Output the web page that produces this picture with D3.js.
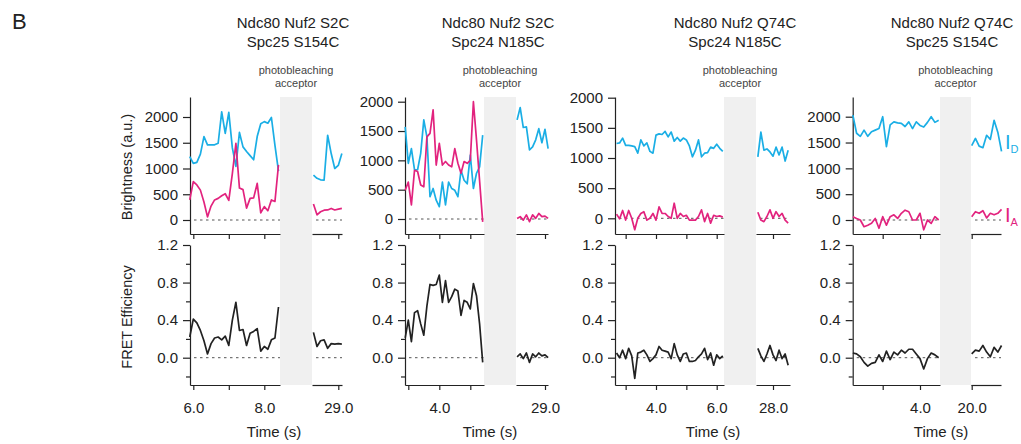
<!DOCTYPE html>
<html>
<head>
<meta charset="utf-8">
<script src="https://cdn.jsdelivr.net/npm/d3@7"></script>
<style>
  body { margin: 0; background: #fff; }
  svg { display: block; font-family: "Liberation Sans", Arial, sans-serif; }
</style>
</head>
<body>
<div id="chart"></div>
<script>
// ---- values ----
// panel 1: Ndc80 Nuf2 S2C / Spc25 S154C
const p1TimeL = [5.9,6.0,6.1,6.2,6.3,6.4,6.5,6.6,6.7,6.8,6.9,7.0,7.1,7.2,7.3,7.4,7.5,7.6,7.7,7.8,7.9,8.0,8.1,8.2,8.3,8.4];
const p1DonorL = [1230,1100,1120,1280,1620,1460,1460,1460,1490,2100,1680,2090,1400,1040,1700,1420,1330,1250,1170,1620,1870,1910,1880,1990,1450,950];
const p1AcceptorL = [390,745,680,580,350,60,270,390,420,470,510,380,900,1490,620,590,230,420,430,710,140,260,180,390,360,1070];
const p1FretL = [0.22,0.41,0.37,0.29,0.18,0.04,0.15,0.21,0.22,0.19,0.23,0.13,0.40,0.59,0.29,0.30,0.13,0.26,0.28,0.31,0.07,0.12,0.09,0.19,0.21,0.54];
const p1TimeR = [28.3,28.4,28.5,28.6,28.7,28.8,28.9,29.0,29.1];
const p1DonorR = [870,810,780,775,1645,1290,1000,1060,1290];
const p1AcceptorR = [310,100,160,190,195,225,195,210,225];
const p1FretR = [0.27,0.12,0.18,0.19,0.10,0.15,0.145,0.15,0.145];

// panel 2: Ndc80 Nuf2 S2C / Spc24 N185C
const p2TimeL = [2.9,3.0,3.1,3.2,3.3,3.4,3.5,3.6,3.7,3.8,3.9,4.0,4.1,4.2,4.3,4.4,4.5,4.6,4.7,4.8,4.9,5.0,5.1,5.2,5.3,5.4];
const p2DonorL = [1570,950,1200,840,840,1120,1690,1400,380,520,320,210,630,240,630,520,490,380,830,660,600,1090,520,780,890,1430];
const p2AcceptorL = [490,630,240,830,810,580,550,1400,1460,1860,920,1290,920,980,920,890,1200,950,780,980,950,1000,2000,1350,650,-50];
const p2FretL = [0.21,0.40,0.17,0.48,0.50,0.36,0.24,0.55,0.78,0.77,0.78,0.88,0.59,0.82,0.59,0.65,0.73,0.71,0.45,0.61,0.59,0.52,0.79,0.66,0.36,-0.05];
const p2TimeR = [28.1,28.2,28.3,28.4,28.5,28.6,28.7,28.8,28.9,29.0,29.1];
const p2DonorR = [1690,1900,1560,1570,1180,1230,1350,1540,1300,1530,1200];
const p2AcceptorR = [10,40,-20,70,-45,70,10,95,40,50,10];
const p2FretR = [0.01,0.04,-0.01,0.05,-0.05,0.04,0.01,0.05,0.02,0.03,0.0];

// panel 3: Ndc80 Nuf2 Q74C / Spc24 N185C
const p3TimeL = [2.7,2.8,2.9,3.0,3.1,3.2,3.3,3.4,3.5,3.6,3.7,3.8,3.9,4.0,4.1,4.2,4.3,4.4,4.5,4.6,4.7,4.8,4.9,5.0,5.1,5.2,5.3,5.4,5.5,5.6,5.7,5.8,5.9,6.0,6.1,6.2];
const p3DonorL = [1240,1250,1330,1210,1210,1200,1190,1080,1300,1200,1250,1110,1080,1380,1400,1390,1440,1350,1430,1280,1340,1280,1330,1300,1200,1020,1130,1300,1020,1080,1090,1180,1160,1230,1160,1110];
const p3AcceptorL = [70,-10,130,-30,130,0,-190,0,80,110,-30,0,80,-30,190,80,80,30,0,250,0,80,30,50,-30,-30,-30,30,140,-55,80,-80,50,30,40,20];
const p3FretL = [0.05,0.0,0.08,-0.01,0.10,0.02,-0.22,0.05,0.06,0.08,0.03,-0.04,-0.01,0.03,0.12,0.08,0.07,0.06,-0.01,0.15,0.03,-0.04,0.04,0.05,-0.04,-0.04,-0.03,0.01,0.04,0.10,-0.02,0.05,-0.08,0.03,-0.01,0.02];
const p3TimeR = [27.5,27.6,27.7,27.8,27.9,28.0,28.1,28.2,28.3,28.4,28.5];
const p3DonorR = [1020,1430,1130,1150,1100,1030,1180,1050,1180,950,1130];
const p3AcceptorR = [100,-30,-55,30,140,0,110,30,80,-30,-80];
const p3FretR = [0.10,0.02,-0.04,0.04,0.13,0.03,-0.03,0.08,-0.01,0.04,-0.08];

// panel 4: Ndc80 Nuf2 Q74C / Spc25 S154C
const p4TimeL = [2.2,2.3,2.4,2.5,2.6,2.7,2.8,2.9,3.0,3.1,3.2,3.3,3.4,3.5,3.6,3.7,3.8,3.9,4.0,4.1,4.2,4.3,4.4,4.5];
const p4DonorL = [2030,1680,1620,1740,1620,1710,1740,1770,2000,1420,1840,1900,1880,1870,1810,1900,1770,1900,1830,1800,1890,2000,1890,1930];
const p4AcceptorL = [65,30,0,-130,-100,-65,30,-160,65,-100,65,100,30,130,190,160,0,0,130,-190,0,-65,65,0];
const p4FretL = [0.05,0.04,0.01,-0.05,-0.09,-0.06,-0.05,0.03,-0.04,0.07,-0.02,0.06,0.03,0.08,0.05,0.09,0.09,0.04,-0.01,-0.12,-0.01,0.05,0.03,0.0];
const p4TimeR = [20.0,20.1,20.2,20.3,20.4,20.5,20.6,20.7,20.8];
const p4DonorR = [1440,1580,1430,1400,1640,1560,1930,1700,1330];
const p4AcceptorR = [65,160,130,180,40,130,100,130,205];
const p4FretR = [0.04,0.08,0.07,0.13,0.06,0.01,0.11,0.06,0.13];

// ticks
const brightTicks = [0, 500, 1000, 1500, 2000];
const fretTicks = [0, 0.4, 0.8, 1.2];
const fretMinor = [-0.2, 0.2, 0.6, 1.0];
const p1TicksL = [6, 7, 8], p1LabelsL = ["6.0", "", "8.0"];
const p1TicksR = [29], p1LabelsR = ["29.0"];
const p2TicksL = [3, 4, 5], p2LabelsL = ["", "4.0", ""];
const p2TicksR = [29], p2LabelsR = ["29.0"];
const p3TicksL = [3, 4, 5, 6], p3LabelsL = ["", "4.0", "", "6.0"];
const p3TicksR = [28], p3LabelsR = ["28.0"];
const p4TicksL = [3, 4], p4LabelsL = ["", "4.0"];
const p4TicksR = [20], p4LabelsR = ["20.0"];

const blue = "#1aaee5", pink = "#e2237e", ink = "#222";

const svg = d3.select("#chart").append("svg")
  .attr("width", 1021).attr("height", 444);

// layout of each panel (pixels)
const panels = [
  { title: ["Ndc80 Nuf2 S2C", "Spc25 S154C"], tx: 293,
    axisX: 190, gapStart: 280, gapEnd: 312, rightEnd: 342,
    anchorL: [[6, 8], [193.3, 264.3]], anchorR: [[28, 29], [302.8, 338.3]],
    bright: [220, 117], timeX: 274,
    tL: p1TimeL, dL: p1DonorL, aL: p1AcceptorL, fL: p1FretL,
    tR: p1TimeR, dR: p1DonorR, aR: p1AcceptorR, fR: p1FretR,
    ticksL: p1TicksL, labelsL: p1LabelsL, ticksR: p1TicksR, labelsR: p1LabelsR },
  { title: ["Ndc80 Nuf2 S2C", "Spc24 N185C"], tx: 498,
    axisX: 405, gapStart: 484, gapEnd: 516, rightEnd: 548,
    anchorL: [[4, 5], [439.3, 470.3]], anchorR: [[28, 29], [514, 545]],
    bright: [219, 101.7], timeX: 490,
    tL: p2TimeL, dL: p2DonorL, aL: p2AcceptorL, fL: p2FretL,
    tR: p2TimeR, dR: p2DonorR, aR: p2AcceptorR, fR: p2FretR,
    ticksL: p2TicksL, labelsL: p2LabelsL, ticksR: p2TicksR, labelsR: p2LabelsR },
  { title: ["Ndc80 Nuf2 Q74C", "Spc24 N185C"], tx: 735,
    axisX: 615, gapStart: 724, gapEnd: 756, rightEnd: 790,
    anchorL: [[4, 6], [656, 716.7]], anchorR: [[27, 28], [742.7, 773]],
    bright: [218.3, 97.7], timeX: 713,
    tL: p3TimeL, dL: p3DonorL, aL: p3AcceptorL, fL: p3FretL,
    tR: p3TimeR, dR: p3DonorR, aR: p3AcceptorR, fR: p3FretR,
    ticksL: p3TicksL, labelsL: p3LabelsL, ticksR: p3TicksR, labelsR: p3LabelsR },
  { title: ["Ndc80 Nuf2 Q74C", "Spc25 S154C"], tx: 952,
    axisX: 852.7, gapStart: 940, gapEnd: 971, rightEnd: 1001,
    anchorL: [[3, 4], [882.7, 920]], anchorR: [[19, 20], [934.4, 971.7]],
    bright: [220, 116.7], timeX: 941,
    tL: p4TimeL, dL: p4DonorL, aL: p4AcceptorL, fL: p4FretL,
    tR: p4TimeR, dR: p4DonorR, aR: p4AcceptorR, fR: p4FretR,
    ticksL: p4TicksL, labelsL: p4LabelsL, ticksR: p4TicksR, labelsR: p4LabelsR }
];

const topY = 97, brightBottom = 234, fretTop = 245, fretBottom = 385;

function styleAxis(sel) {
  sel.selectAll(".domain").attr("stroke", ink).attr("stroke-width", 1.2);
  sel.selectAll(".tick line").attr("stroke", ink).attr("stroke-width", 1.2);
  sel.selectAll(".tick text").attr("fill", ink).style("font-size", "15px")
    .style("font-family", '"Liberation Sans", Arial, sans-serif');
}

panels.forEach(p => {
  const g = svg.append("g");

  // grey band where the acceptor was bleached
  g.append("rect")
    .attr("x", p.gapStart).attr("y", topY)
    .attr("width", p.gapEnd - p.gapStart).attr("height", fretBottom - topY)
    .attr("fill", "#f0f0f0");

  // time scales for the two pieces of the broken axis
  const xL = d3.scaleLinear().domain(p.anchorL[0]).range(p.anchorL[1]);
  xL.domain([xL.invert(p.axisX), xL.invert(p.gapStart)]).range([p.axisX, p.gapStart]);
  const xR = d3.scaleLinear().domain(p.anchorR[0]).range(p.anchorR[1]);
  xR.domain([xR.invert(p.gapEnd), xR.invert(p.rightEnd)]).range([p.gapEnd, p.rightEnd]);

  const yB = d3.scaleLinear().domain([0, 2000]).range(p.bright);
  yB.domain([yB.invert(brightBottom), yB.invert(topY)]).range([brightBottom, topY]);
  const yF = d3.scaleLinear().domain([0, 1.2]).range([357.7, fretTop]);
  yF.domain([yF.invert(fretBottom), 1.2]).range([fretBottom, fretTop]);

  // y axes
  g.append("g").attr("transform", `translate(${p.axisX},0)`)
    .call(d3.axisLeft(yB).tickValues(brightTicks).tickFormat(d3.format("d"))
      .tickSize(7).tickSizeOuter(0).tickPadding(5))
    .call(styleAxis);
  g.append("g").attr("transform", `translate(${p.axisX},0)`)
    .call(d3.axisLeft(yF).tickValues(fretTicks).tickFormat(d3.format(".1f"))
      .tickSize(7).tickSizeOuter(0).tickPadding(5))
    .call(styleAxis);
  g.append("g").attr("transform", `translate(${p.axisX},0)`)
    .call(d3.axisLeft(yF).tickValues(fretMinor).tickFormat("").tickSize(4))
    .call(styleAxis)
    .call(a => a.select(".domain").remove());

  // x axes (bottom of both panels, two pieces each)
  [[brightBottom, false], [fretBottom, true]].forEach(([yy, withLabels]) => {
    g.append("g").attr("transform", `translate(0,${yy})`)
      .call(d3.axisBottom(xL).tickValues(p.ticksL).tickSize(5).tickSizeOuter(0).tickPadding(12)
        .tickFormat((d, i) => withLabels ? p.labelsL[i] : ""))
      .call(styleAxis);
    g.append("g").attr("transform", `translate(0,${yy})`)
      .call(d3.axisBottom(xR).tickValues(p.ticksR).tickSize(5).tickSizeOuter(0).tickPadding(12)
        .tickFormat((d, i) => withLabels ? p.labelsR[i] : ""))
      .call(styleAxis);
  });

  // dashed zero lines
  [yB(0), yF(0)].forEach(yy => {
    [[p.axisX, p.gapStart], [p.gapEnd, p.rightEnd]].forEach(([a, b]) => {
      g.append("line")
        .attr("x1", a + 4).attr("x2", b).attr("y1", yy).attr("y2", yy)
        .attr("stroke", "#555").attr("stroke-width", 1)
        .attr("stroke-dasharray", "2.5,3.5");
    });
  });

  // traces
  const segs = [[xL, p.tL, p.dL, p.aL, p.fL], [xR, p.tR, p.dR, p.aR, p.fR]];
  segs.forEach(([x, t, d, a, f]) => {
    const lineB = d3.line().x((v, i) => x(t[i])).y(v => yB(v));
    const lineF = d3.line().x((v, i) => x(t[i])).y(v => yF(v));
    g.append("path").datum(d).attr("d", lineB)
      .attr("fill", "none").attr("stroke", blue).attr("stroke-width", 1.7)
      .attr("stroke-linejoin", "round");
    g.append("path").datum(a).attr("d", lineB)
      .attr("fill", "none").attr("stroke", pink).attr("stroke-width", 1.7)
      .attr("stroke-linejoin", "round");
    g.append("path").datum(f).attr("d", lineF)
      .attr("fill", "none").attr("stroke", ink).attr("stroke-width", 1.7)
      .attr("stroke-linejoin", "round");
  });

  // titles
  const title = g.append("text").attr("text-anchor", "middle")
    .attr("fill", ink).style("font-size", "15px");
  title.append("tspan").attr("x", p.tx).attr("y", 28).text(p.title[0]);
  title.append("tspan").attr("x", p.tx).attr("y", 47).text(p.title[1]);

  const pb = g.append("text").attr("text-anchor", "middle")
    .attr("fill", "#444").style("font-size", "11px");
  const cx = (p.gapStart + p.gapEnd) / 2;
  pb.append("tspan").attr("x", cx).attr("y", 74).text("photobleaching");
  pb.append("tspan").attr("x", cx).attr("y", 87).text("acceptor");

  g.append("text").attr("x", p.timeX).attr("y", 437)
    .attr("text-anchor", "middle").attr("fill", ink)
    .style("font-size", "15px").text("Time (s)");
});

// panel letter and y labels
svg.append("text").attr("x", 12).attr("y", 29)
  .attr("fill", ink).style("font-size", "22px").text("B");

svg.append("text")
  .attr("transform", "translate(132,167) rotate(-90)")
  .attr("text-anchor", "middle").attr("fill", ink)
  .style("font-size", "14.5px").text("Brightness (a.u.)");
svg.append("text")
  .attr("transform", "translate(132,317) rotate(-90)")
  .attr("text-anchor", "middle").attr("fill", ink)
  .style("font-size", "14.5px").text("FRET Efficiency");

// trace labels at the right edge
const lblD = svg.append("text").attr("x", 1005).attr("y", 149)
  .attr("fill", blue).style("font-size", "20px");
lblD.append("tspan").text("I");
lblD.append("tspan").attr("dy", 4).style("font-size", "11px").text("D");
const lblA = svg.append("text").attr("x", 1005).attr("y", 222)
  .attr("fill", pink).style("font-size", "20px");
lblA.append("tspan").text("I");
lblA.append("tspan").attr("dy", 4).style("font-size", "11px").text("A");
</script>
</body>
</html>
